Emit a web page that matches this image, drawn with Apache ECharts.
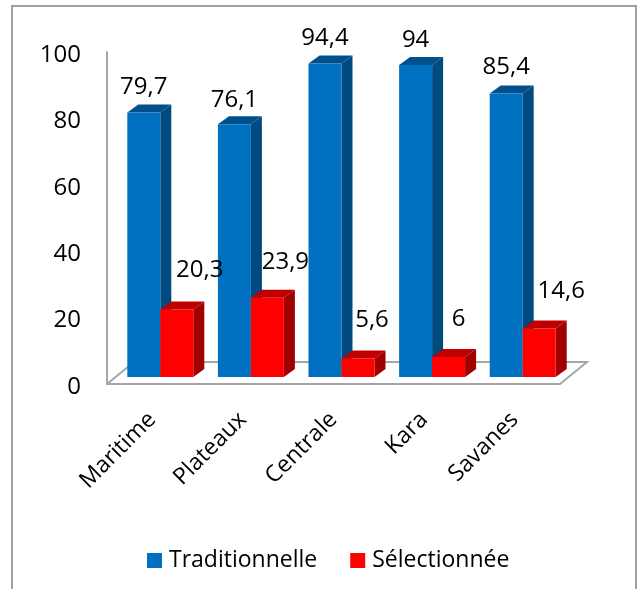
<!DOCTYPE html>
<html><head><meta charset="utf-8">
<style>html,body{margin:0;padding:0;background:#fff}#c{width:644px;height:589px}</style>
<script src="https://cdn.jsdelivr.net/npm/echarts@6/dist/echarts.min.js"></script>
</head><body><div id="c"></div>
<script>
const categories = ['Maritime','Plateaux','Centrale','Kara','Savanes'];
const traditionnelle = [79.7,76.1,94.4,94,85.4];
const selectionnee = [20.3,23.9,5.6,6,14.6];
const valueTicks = {min:0,max:100,interval:20};

const FONT='"Open Sans"';
const G={left:107,top:52,width:453,height:332};
const barW=33, depthX=11, depthY=8, liftY=7, shiftX=8;
const blueLabelDx=[0,0,0,0,0], blueLabelDy=[-25,-24,-25,-25,-26];
const redLabelDx=[23,18,14,10,22], redLabelDy=[-39,-35,-38,-38,-37];

function bar3d(side,colors,dxs,dys,values){
  return function(params,api){
    const i=api.value(0), v=api.value(1);
    const top=api.coord([i,v]), base=api.coord([i,0]);
    const x0=side<0? base[0]+shiftX-barW : base[0]+shiftX, x1=x0+barW;
    const yb=base[1]-liftY, yt=top[1]-liftY;
    const label=String(values[params.dataIndex]).replace('.',',');
    return {type:'group',children:[
      {type:'polygon',shape:{points:[[x1,yb],[x1+depthX,yb-depthY],[x1+depthX,yt-depthY],[x1,yt]]},style:{fill:colors[2]}},
      {type:'polygon',shape:{points:[[x0,yt],[x0+depthX,yt-depthY],[x1+depthX,yt-depthY],[x1,yt]]},style:{fill:colors[1]}},
      {type:'rect',shape:{x:x0,y:yt,width:barW,height:yb-yt},style:{fill:colors[0]}},
      {type:'text',z2:50,style:{x:(x0+x1)/2+dxs[params.dataIndex],y:yt+dys[params.dataIndex],text:label,
        fill:'#000',font:'24px '+FONT,align:'center',verticalAlign:'middle'}}
    ]};
  };
}
const fx=G.left,fr=G.left+G.width,fy=G.top+G.height,backY=fy-22,run=27;
const chart=echarts.init(document.getElementById('c'),null,{renderer:'canvas'});
chart.setOption({
  animation:false,
  backgroundColor:'#fff',
  textStyle:{fontFamily:FONT},
  grid:{left:G.left,top:G.top,width:G.width,height:G.height},
  graphic:[
    {type:'polyline',z:0,shape:{points:[[12,600],[12,6],[636,6],[636,600]]},style:{stroke:'#a0a0a0',lineWidth:2,fill:null}},
    {type:'polyline',z:0,shape:{points:[[fx,fy],[fx+run,backY],[fr+run,backY],[fr,fy]]},style:{stroke:'#a6a6a6',lineWidth:2,fill:null}}
  ],
  legend:{left:142,top:544,icon:'rect',itemWidth:15,itemHeight:15,itemGap:33,
    textStyle:{fontFamily:FONT,fontSize:23,color:'#000',padding:[0,0,0,2]},
    data:['Traditionnelle','Sélectionnée']},
  xAxis:{type:'category',data:categories,
    axisLine:{show:true,lineStyle:{color:'#a6a6a6',width:2}},axisTick:{show:false},
    axisLabel:{rotate:45,fontFamily:FONT,fontSize:23,color:'#000',margin:32,interval:0}},
  yAxis:{type:'value',min:valueTicks.min,max:valueTicks.max,interval:valueTicks.interval,
    axisLine:{show:true,lineStyle:{color:'#a6a6a6',width:2}},axisTick:{show:false},splitLine:{show:false},
    axisLabel:{fontFamily:FONT,fontSize:24,color:'#000',margin:26,verticalAlign:'top',lineHeight:6}},
  series:[
    {name:'Traditionnelle',type:'custom',itemStyle:{color:'#0070C0'},encode:{x:0,y:1},clip:false,
     data:traditionnelle.map((v,i)=>[i,v]),
     renderItem:bar3d(-1,['#0070C0','#00508C','#004A80'],blueLabelDx,blueLabelDy,traditionnelle)},
    {name:'Sélectionnée',type:'custom',itemStyle:{color:'#FF0000'},encode:{x:0,y:1},clip:false,
     data:selectionnee.map((v,i)=>[i,v]),
     renderItem:bar3d(1,['#FF0000','#C00000','#A00000'],redLabelDx,redLabelDy,selectionnee)}
  ]
});
</script></body></html>
